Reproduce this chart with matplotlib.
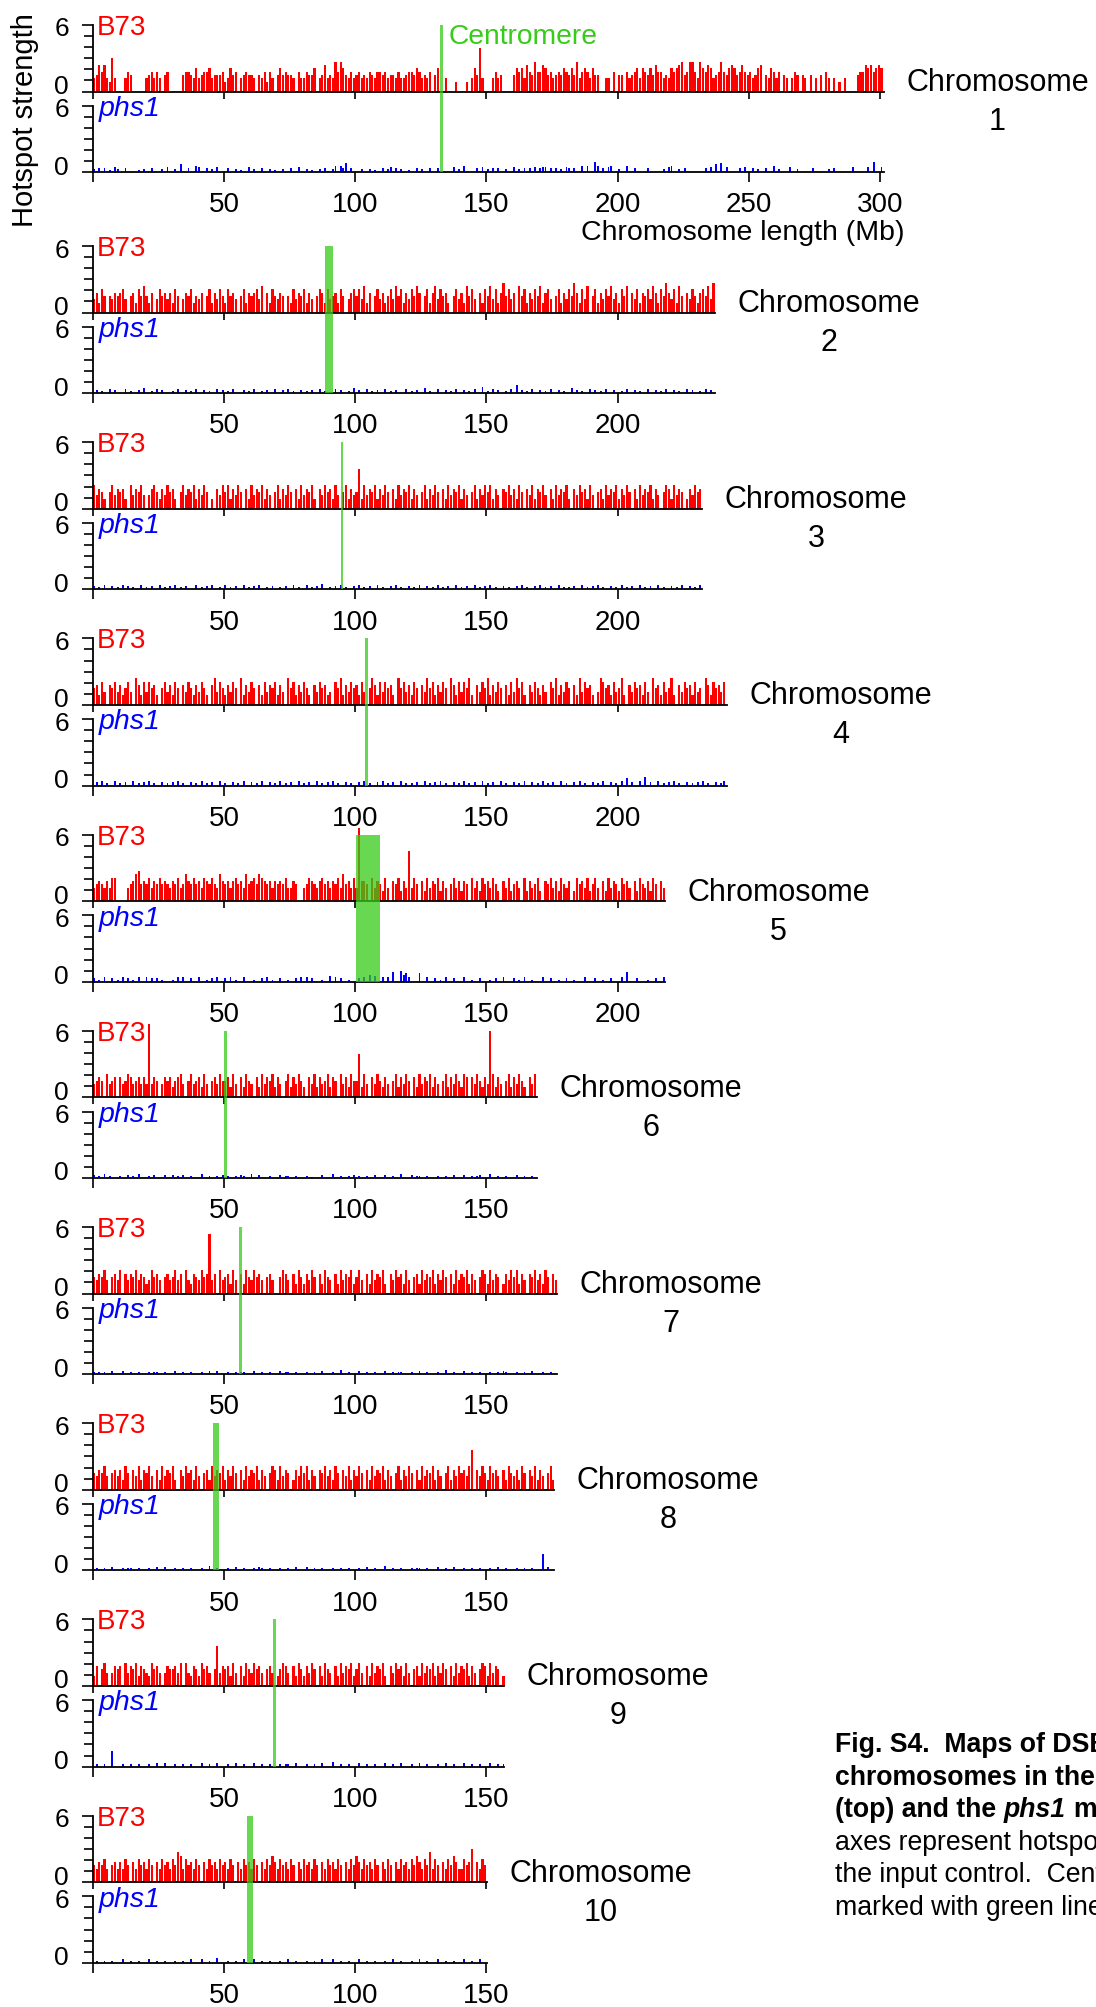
import matplotlib
matplotlib.use("Agg")
import matplotlib.pyplot as plt
from matplotlib.patches import Rectangle
from matplotlib.transforms import blended_transform_factory, ScaledTranslation
from matplotlib.ticker import FixedLocator

plt.rcParams['font.family'] = ['Liberation Sans', 'DejaVu Sans']

# ---------------- data ----------------
CHROMOSOMES = ["1", "2", "3", "4", "5", "6", "7", "8", "9", "10"]
CHROM_LENGTHS_MB = [301.35, 237.07, 232.14, 241.47, 217.87, 169.17, 176.76, 175.79, 156.75, 150.19]
CENTROMERE_MB = [(132.4, 133.6), (88.5, 91.5), (94.4, 95.5), (103.7, 104.8), (100.3, 109.4),
                 (50.0, 51.1), (55.9, 57.0), (45.7, 48.1), (68.7, 69.8), (58.8, 61.0)]
BIN_MB = 1.0
# hotspot strength per 1-Mb bin, one base-36 character per bin
# B73: value = char * 0.3 ; phs1: value = char * 0.1 ; '0' = no hotspot
B73_STEP = 0.3
PHS1_STEP = 0.1

B73_CHR1 = ("4586843a40" "0046500000" "4564640560" "0000566547" "4566745556"
            "3475604565" "5405463640" "5756554064" "4655704584" "5496975464"
            "5645465466" "5645546445" "6657645460" "5700400030" "0030475d40"
            "0046450000" "5767486596" "6875645657" "6575946764" "7550044060"
            "5506456747" "6575866454" "7678956996" "4976874569" "6578756865"
            "6457805476" "4605404650" "5405040506" "4040304000" "0566878678" "7")
PHS1_CHR1 = ("3040402053" "0040000203" "0040003050" "0307004006" "5004030500"
             "0400302005" "0300400302" "0030040050" "0302003040" "0360648040"
             "0030030200" "4035040300" "2004030040" "0400000503" "0600004050"
             "3040400300" "5030404050" "4550404030" "5404006060" "0960405600"
             "3006004000" "0400000305" "6003040000" "0004050708" "0500004050"
             "0403004006" "0300050030" "0000400000" "3040000005" "0000050900" "5")

B73_CHR2 = ("4637505465" "6740563758" "5360475646" "3750465735" "4605736475"
            "3756405736" "5674806375" "4650537465" "7364057637" "4563750467"
            "5748360574" "6357485736" "4758605736" "8475630574" "6385740637"
            "5847369574" "6085736475" "8367405736" "4759637480" "5736475846"
            "3758064736" "5748637596" "4738506475" "3675849")
PHS1_CHR2 = ("0302004030" "0040200305" "0020403000" "2040030204" "0030200403"
             "0204000302" "0400203004" "0030402003" "0203004020" "0040300205"
             "0300402030" "0402030004" "0203005020" "0400302040" "0302040060"
             "2040300204" "0703020400" "3020400302" "0050302004" "0302040030"
             "0204003020" "0400302040" "0302004030" "0204030")

B73_CHR3 = ("7465305746" "5630746574" "0467536475" "6305746573" "6475030647"
            "5736475063" "7465736405" "7364750637" "4657306475" "6374057364"
            "5c37465736" "4750637465" "7364057364" "7506374657" "3640573647"
            "5736406574" "6375064736" "5740637465" "7306475637" "4056374657"
            "3647506374" "6573640576" "3746503647" "56")
PHS1_CHR3 = ("3020400302" "0403020040" "2030040203" "0402030004" "0203040020"
             "4020300402" "0304002030" "0203004020" "0402030500" "2030402003"
             "0402030040" "2003040200" "3020400302" "0402030040" "2030040203"
             "0402003020" "0304020030" "4020300402" "0203004020" "3040200302"
             "0402030040" "2030040200" "3020400302" "04")

B73_CHR4 = ("5637406574" "6357408637" "4756305746" "3750647536" "4753068475"
            "3647508364" "7506374657" "3640857364" "7530647563" "4075836475"
            "6374058637" "4756308574" "6375064857" "3647508637" "4758306475"
            "8364750637" "4857306475" "3640758364" "7506384756" "3048756374"
            "5830647563" "7408563745" "8306475637" "4508637564" "7")
PHS1_CHR4 = ("0304020040" "2030040203" "0402003020" "3040200302" "0402030040"
             "2003020400" "3020400302" "0402030040" "2030040203" "0402003020"
             "0304020030" "4020300402" "0203004020" "3040200302" "0402030040"
             "2030040200" "3020400302" "0402030040" "2003040200" "3020400302"
             "0407030040" "8030040203" "0402003020" "3040200302" "4")

B73_CHR5 = ("4565464770" "0004568956" "5746575654" "6574586575" "6476575486"
            "5646756485" "6758765646" "5657446500" "4576546756" "4657485647"
            "4m66507465" "3740657364" "f475063746" "5736405746" "3650746375"
            "6475306473" "5640736457" "3065746375" "4603756473" "5740637465"
            "3756406375" "46375064")
PHS1_CHR5 = ("3020400302" "0403020400" "4030302000" "2040400300" "4002030400"
             "3040200400" "0200304020" "0300200304" "0403000200" "5040300200"
             "0304060500" "4040900a68" "4000800400" "3020400300" "0400200300"
             "0203004000" "3020400200" "0400300200" "3002000400" "0300200300"
             "0409000300" "02003004")

B73_CHR6 = ("4565074560" "6457645646" "4m46504656" "3567405745" "6374056475"
            "5637406375" "4063746573" "6405736475" "3064736457" "3650746375"
            "5d37406475" "3640573647" "5063746573" "6405736475" "3760647536"
            "4k73640573" "6475306475")
PHS1_CHR6 = ("3020402000" "2003020400" "0203000300" "3020300200" "0400200203"
             "0200203200" "4003000200" "0302200200" "0201000300" "0400200203"
             "0200200300" "0300200400" "0302200200" "0200200300" "0300202300"
             "0400200200" "0300200203")

B73_CHR7 = ("5465740564" "7064657465" "3475640564" "5746074365" "4756i46074"
            "5637406375" "4756405640" "0576406375" "3647506375" "4063746573"
            "5740637465" "7306475637" "4056374657" "3647506374" "6573640576"
            "3746503647" "5736406574" "6375064")
PHS1_CHR7 = ("2020200300" "0300200200" "0202200200" "0300200200" "0200300300"
             "0200202200" "0300200200" "0302200200" "0200200300" "0200400200"
             "0300200200" "0300202200" "0200300200" "0200400200" "0300200200"
             "0200203200" "0200200300" "0200200")

B73_CHR8 = ("5465740564" "6375064736" "5740637465" "7306475637" "4056374657"
            "3647506374" "6573640576" "3746503647" "5736406574" "6375064736"
            "4750637465" "7364057364" "7506374657" "3640573647" "5647c06475"
            "3756406375" "4637506473" "640573")
PHS1_CHR8 = ("0200200300" "0202200200" "0200300300" "0200200200" "0200400200"
             "0200300200" "0203200200" "0200200300" "0300200200" "0200200200"
             "0200300200" "0400200200" "0202200200" "0300200300" "0200200200"
             "0200300200" "0200200200" "0f0300")

B73_CHR9 = ("3605740465" "6074657365" "4375640465" "5647074365" "3756405c46"
            "5637406375" "4756405640" "3576406375" "3647506375" "4063746573"
            "5740637465" "7306475637" "4056374657" "3647506374" "6573640576"
            "3746503")
PHS1_CHR9 = ("0200200e00" "0200200200" "0200300300" "0200200200" "0300200300"
             "0200300200" "0300200200" "0202200300" "0200200300" "0400200200"
             "0300200200" "0300200300" "0200300200" "0200300200" "0300200200"
             "0300202")

B73_CHR10 = ("5465740564" "6475064756" "4750647564" "7598475647" "5064756475"
             "6475064756" "4750647586" "4756475064" "7564750647" "5647506475"
             "8647564750" "6475064756" "4758647594" "7506475864" "4756a06475")
PHS1_CHR10 = ("0200200200" "0300200200" "0300200200" "0200200300" "0300200400"
              "0200200300" "0300200200" "0200300200" "0200200300" "0300200200"
              "0300200200" "0200300200" "0200300200" "0300200200" "0300200300")

B73_SERIES = [B73_CHR1, B73_CHR2, B73_CHR3, B73_CHR4, B73_CHR5,
              B73_CHR6, B73_CHR7, B73_CHR8, B73_CHR9, B73_CHR10]
PHS1_SERIES = [PHS1_CHR1, PHS1_CHR2, PHS1_CHR3, PHS1_CHR4, PHS1_CHR5,
               PHS1_CHR6, PHS1_CHR7, PHS1_CHR8, PHS1_CHR9, PHS1_CHR10]
X_TICK_STEP = 50
Y_MAX = 6

CAPTION = [
    [("Fig. S4.  Maps of DSB hotspots", "bold", "normal")],
    [("chromosomes in the B73", "bold", "normal")],
    [("(top) and the ", "bold", "normal"), ("phs1", "bold", "italic"),
     (" mutant", "bold", "normal")],
    [("axes represent hotspot", "normal", "normal")],
    [("the input control.  Centromeres", "normal", "normal")],
    [("marked with green lines.", "normal", "normal")],
]

# ---------------- layout (pixels) ----------------
W, H = 1096, 2007
X0 = 92.7          # x pixel of 0 Mb
PPM = 2.625        # pixels per Mb
BLOCK_TOPS = [25.0] + [246.0 + 196.2 * i for i in range(9)]
PANEL_H = 66.5
PHS_OFF = 80.7

RED = '#FF0000'
BLUE = '#0000FF'
GREEN = '#36CC18'

fig = plt.figure(figsize=(W / 100, H / 100), dpi=100)


def fx(px):
    return px / W


def fy(py):
    return 1 - py / H


def decode(s, step):
    return [int(c, 36) * step for c in s]


def style_axes(ax, L, with_labels):
    ax.set_xlim(0, L)
    ax.set_ylim(0, Y_MAX)
    ax.set_facecolor('none')
    for s in ('top', 'right'):
        ax.spines[s].set_visible(False)
    for s in ('left', 'bottom'):
        ax.spines[s].set_linewidth(1.3)
    ax.yaxis.set_major_locator(FixedLocator([0, Y_MAX]))
    ax.yaxis.set_minor_locator(FixedLocator([1, 2, 3, 4, 5]))
    ax.set_yticklabels(['0', str(Y_MAX)])
    ax.tick_params(axis='y', which='major', length=8, width=1.2, pad=9,
                   labelsize=19, direction='out')
    ax.tick_params(axis='y', which='minor', length=6.5, width=1.2, direction='out')
    ticks = list(range(0, int(L) + 1, X_TICK_STEP))
    ax.xaxis.set_major_locator(FixedLocator(ticks))
    if with_labels:
        ax.set_xticklabels(['' if t == 0 else str(t) for t in ticks])
        ax.tick_params(axis='x', length=7.5, width=1.2, pad=7, labelsize=20)
    else:
        ax.set_xticklabels([])
        ax.tick_params(axis='x', length=5, width=1.2)
    yt = ax.yaxis.get_major_ticks()
    yt[0].label1.set_transform(yt[0].label1.get_transform() +
                               ScaledTranslation(0, 7 / 100, fig.dpi_scale_trans))
    yt[1].label1.set_transform(yt[1].label1.get_transform() +
                               ScaledTranslation(0, -2 / 100, fig.dpi_scale_trans))


for i, name in enumerate(CHROMOSOMES):
    L = CHROM_LENGTHS_MB[i]
    top = BLOCK_TOPS[i]
    width = fx(L * PPM)
    axB = fig.add_axes([fx(X0), fy(top + PANEL_H), width, PANEL_H / H])
    axP = fig.add_axes([fx(X0), fy(top + PHS_OFF + PANEL_H), width, PANEL_H / H])

    for ax, series, step, color, bw in ((axB, B73_SERIES[i], B73_STEP, RED, 0.82),
                                        (axP, PHS1_SERIES[i], PHS1_STEP, BLUE, 0.75)):
        vals = decode(series, step)
        xs, hs = [], []
        for k, v in enumerate(vals):
            xc = (k + 0.5) * BIN_MB
            if v > 0 and xc < L:
                xs.append(xc)
                hs.append(v)
        ax.bar(xs, hs, width=bw * BIN_MB, color=color, linewidth=0, clip_on=False)

    style_axes(axB, L, False)
    style_axes(axP, L, True)

    fig.text(fx(97), fy(top + 10), 'B73', color=RED, fontsize=20, va='baseline', ha='left')
    fig.text(fx(99), fy(top + 91), 'phs1', color=BLUE, fontsize=20.5, style='italic',
             va='baseline', ha='left')

    # centromere
    c0, c1 = CENTROMERE_MB[i]
    trans = blended_transform_factory(axP.transData, fig.transFigure)
    rect = Rectangle((c0, fy(top + PHS_OFF + PANEL_H)), c1 - c0,
                     fy(top) - fy(top + PHS_OFF + PANEL_H), transform=trans,
                     facecolor=GREEN, alpha=0.75, linewidth=0, zorder=5)
    fig.add_artist(rect)

    # chromosome label
    lx = X0 + L * PPM + 22.5
    t = fig.text(fx(lx), fy(top + 58), 'Chromosome', fontsize=22, ha='left', va='center')
    fig.canvas.draw()
    bb = t.get_window_extent()
    fig.text((bb.x0 + bb.x1) / 2 / W, fy(top + 97), name, fontsize=22,
             ha='center', va='center')

    if i == 0:
        cx = X0 + (c0 + c1) / 2 * PPM
        fig.text(fx(cx + 7), fy(44.5), 'Centromere', color=GREEN, fontsize=20.3,
                 va='baseline', ha='left')
        fig.text(fx(742.6), fy(240), 'Chromosome length (Mb)', fontsize=20.5,
                 ha='center', va='baseline')

fig.text(fx(25), fy(120), 'Hotspot strength', fontsize=21, rotation=90,
         ha='center', va='center')

# caption (runs off the right edge, as on the original page)
renderer = fig.canvas.get_renderer()
CAP_FAMILY = ['Liberation Sans', 'DejaVu Sans']
CAP_SIZE = 19.2
SPACE_EM = 0.278
CAP_X = 835
CAP_BASE = 1752
CAP_STEP = 32.6
for li, segs in enumerate(CAPTION):
    x = CAP_X
    yb = CAP_BASE + li * CAP_STEP
    for text, weight, style in segs:
        lead = len(text) - len(text.lstrip(' '))
        x += lead * SPACE_EM * CAP_SIZE * 100 / 72
        body = text.strip(' ')
        t = fig.text(fx(x), fy(yb), body, fontsize=CAP_SIZE, fontweight=weight,
                     style=style, family=CAP_FAMILY, ha='left', va='baseline')
        x += t.get_window_extent(renderer).width
        trail = len(text) - len(text.rstrip(' '))
        x += trail * SPACE_EM * CAP_SIZE * 100 / 72

fig.savefig('out.png', dpi=100)
